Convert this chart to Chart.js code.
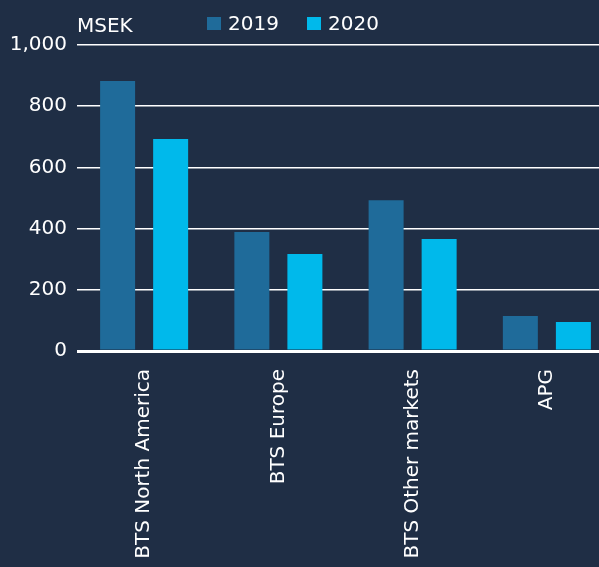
<!DOCTYPE html>
<html>
<head>
<meta charset="utf-8">
<script src="https://cdn.jsdelivr.net/npm/chart.js@4"></script>
<style>
  html, body { margin: 0; padding: 0; background: #1f2e45; overflow: hidden; }
  #wrap { width: 614px; height: 567px; }
</style>
</head>
<body>
<div id="wrap"><canvas id="segChart"></canvas></div>
<script>
const categories = ['BTS North America', 'BTS Europe', 'BTS Other markets', 'APG'];
const values2019 = [882, 389, 493, 114];
const values2020 = [693, 317, 366, 95];
const yTicks = [0, 200, 400, 600, 800, 1000];
const seriesColors = ['#1f6b9a', '#00b9eb'];

const fontFamily = '"DejaVu Sans", "Noto Sans", sans-serif';

// unit label and legend row at the top
const header = {
    id: 'header',
    afterDraw(chart) {
        const c = chart.ctx;
        c.save();
        c.fillStyle = '#ffffff';
        c.font = '20px ' + fontFamily;
        c.textAlign = 'left';
        c.textBaseline = 'alphabetic';
        c.fillText('MSEK', 77, 32);
        const xs = [207, 307];
        chart.data.datasets.forEach((ds, i) => {
            c.fillStyle = ds.backgroundColor;
            c.fillRect(xs[i], 17, 14, 13);
            c.fillStyle = '#ffffff';
            c.fillText(ds.label, xs[i] + 21, 30);
        });
        c.restore();
    }
};

const ctx = document.getElementById('segChart').getContext('2d');
const segChart = new Chart(ctx, {
    type: 'bar',
    data: {
        labels: categories,
        datasets: [
            { label: '2019', data: values2019, backgroundColor: seriesColors[0] },
            { label: '2020', data: values2020, backgroundColor: seriesColors[1] }
        ]
    },
    options: {
        responsive: true,
        maintainAspectRatio: false,
        animation: false,
        layout: { padding: { top: 45, left: 0, right: 0, bottom: 0 } },
        datasets: { bar: { categoryPercentage: 0.79, barPercentage: 0.66 } },
        plugins: {
            legend: { display: false },
            tooltip: { enabled: false }
        },
        scales: {
            x: {
                grid: { display: false },
                border: { display: false },
                ticks: {
                    color: '#ffffff',
                    font: { family: fontFamily, size: 20 },
                    minRotation: 90,
                    maxRotation: 90,
                    padding: 10,
                    autoSkip: false
                },
                afterFit(scale) { scale.height = 216; }
            },
            y: {
                min: 0,
                max: 1000,
                afterBuildTicks(scale) { scale.ticks = yTicks.map(v => ({ value: v })); },
                grid: {
                    color: '#ffffff',
                    lineWidth: c => c.tick && c.tick.value === 0 ? 3 : 1.5,
                    drawTicks: false
                },
                border: { display: false },
                ticks: {
                    color: '#ffffff',
                    font: { family: fontFamily, size: 20 },
                    padding: 10,
                    callback: v => v.toLocaleString('en-US')
                },
                afterFit(scale) { scale.width = 77; }
            }
        }
    },
    plugins: [header]
});
</script>
</body>
</html>
